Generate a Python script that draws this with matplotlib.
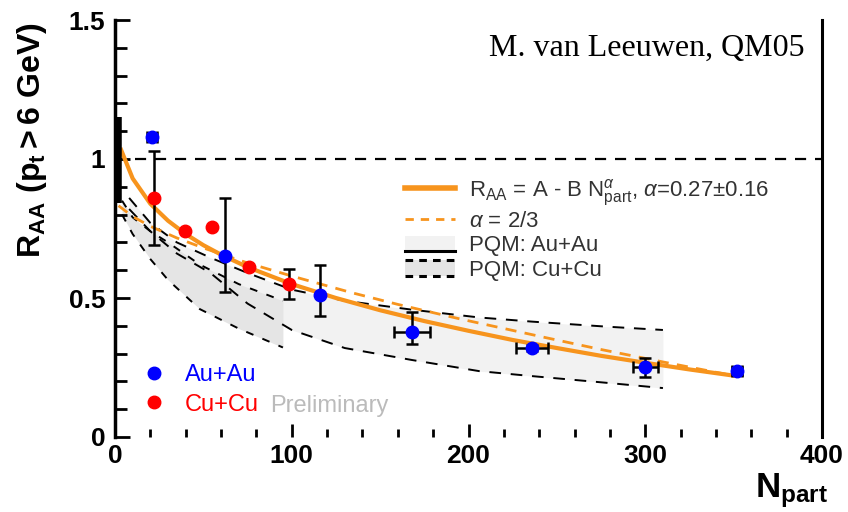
import matplotlib
matplotlib.use('Agg')
import matplotlib.pyplot as plt
from matplotlib.lines import Line2D
from matplotlib.patches import Patch, Rectangle
from matplotlib.legend_handler import HandlerBase

plt.rcParams['font.family'] = ['Liberation Sans', 'DejaVu Sans']
plt.rcParams['mathtext.fontset'] = 'custom'
plt.rcParams['mathtext.rm'] = 'Liberation Sans'
plt.rcParams['mathtext.it'] = 'Liberation Sans:italic'
plt.rcParams['mathtext.bf'] = 'Liberation Sans:bold'

# ---------------- data ----------------
auau_N = [21, 62, 116, 168, 236, 300, 352]
auau_R = [1.08, 0.65, 0.51, 0.378, 0.32, 0.252, 0.237]
auau_err_lo = [0.0, 0.13, 0.075, 0.045, 0.01, 0.035, 0.015]
auau_err_hi = [0.0, 0.21, 0.11, 0.07, 0.01, 0.033, 0.015]
auau_xerr = [3, 0, 0, 10, 9, 7, 3]

cucu_N = [22, 39.5, 55, 75.7, 98.3]
cucu_R = [0.86, 0.741, 0.755, 0.61, 0.55]
cucu_err = [0.17, 0.0, 0.0, 0.0, 0.053]

norm_N = 2
norm_lo = 0.84
norm_hi = 1.15

fit_N = [3, 10, 20, 30, 40, 50, 60, 75, 100, 125, 150, 175, 200, 225, 250,
         275, 300, 325, 352]
fit_R = [1.04, 0.93, 0.839, 0.778, 0.73, 0.69, 0.656, 0.611, 0.55, 0.50,
         0.456, 0.417, 0.382, 0.349, 0.32, 0.292, 0.267, 0.243, 0.219]

fit23_N = [2, 10, 20, 35, 50, 75, 100, 134, 160, 195, 244, 274, 310, 352]
fit23_R = [0.832, 0.793, 0.758, 0.716, 0.68, 0.626, 0.579, 0.519, 0.477,
           0.425, 0.357, 0.316, 0.27, 0.218]

pqm_auau_N = [8, 20, 35, 54, 75, 100, 130, 168, 206, 236, 278, 310]
pqm_auau_hi = [0.86, 0.77, 0.70, 0.645, 0.59, 0.53, 0.49, 0.458, 0.43,
               0.415, 0.397, 0.385]
pqm_auau_lo = [0.82, 0.74, 0.66, 0.59, 0.48, 0.385, 0.32, 0.277, 0.237,
               0.219, 0.195, 0.176]

pqm_cucu_N = [4, 10, 20, 30, 48, 70, 95]
pqm_cucu_hi = [0.85, 0.79, 0.74, 0.70, 0.62, 0.55, 0.49]
pqm_cucu_lo = [0.80, 0.73, 0.64, 0.565, 0.46, 0.39, 0.322]

x_ticks = [0, 100, 200, 300, 400]
y_ticks = [0, 0.5, 1, 1.5]
y_ticklabels = ['0', '0.5', '1', '1.5']

ORANGE = '#f7941d'

# ---------------- figure ----------------
fig = plt.figure(figsize=(8.48, 5.12), dpi=100)
ax = fig.add_axes([115 / 848, 75 / 512, 707 / 848, 417 / 512])

ax.fill_between(pqm_auau_N, pqm_auau_lo, pqm_auau_hi, color='#f2f2f2', lw=0, zorder=1)
ax.fill_between(pqm_cucu_N, pqm_cucu_lo, pqm_cucu_hi, color='#e5e5e5', lw=0, zorder=1.1)
for yy in (pqm_auau_lo, pqm_auau_hi):
    ax.plot(pqm_auau_N, yy, color='k', lw=1.4, ls=(0, (6, 5)), zorder=2)
for yy in (pqm_cucu_lo, pqm_cucu_hi):
    ax.plot(pqm_cucu_N, yy, color='k', lw=1.4, ls=(0, (4, 5)), zorder=2)

ax.axhline(1.0, color='k', lw=1.6, ls=(0, (5, 4)), zorder=2)

ax.plot(fit_N, fit_R, color=ORANGE, lw=3, zorder=3, solid_capstyle='butt')
ax.plot(fit23_N, fit23_R, color=ORANGE, lw=2, ls=(0, (4, 3)), zorder=3)

ax.vlines(norm_N, norm_lo, norm_hi, color='k', lw=4, zorder=4)

ax.errorbar(cucu_N, cucu_R, yerr=cucu_err, fmt='o', color='#ff0000', ecolor='k',
            elinewidth=1.8, capsize=4, capthick=1.8, ms=9, mec='#ff0000', zorder=5)
ax.errorbar(auau_N, auau_R, yerr=[auau_err_lo, auau_err_hi], xerr=auau_xerr, fmt='o',
            color='#0000ff', ecolor='k', elinewidth=1.8, capsize=4, capthick=1.8,
            ms=9, mec='#0000ff', zorder=5)

ax.set_xlim(0, 400)
ax.set_ylim(0, 1.5)
ax.spines['top'].set_visible(False)
ax.spines['bottom'].set_visible(False)
ax.spines['left'].set_linewidth(2.5)
ax.spines['right'].set_linewidth(2.2)

ax.set_xticks(x_ticks)
ax.set_xticks([v for v in range(0, 401, 20)], minor=True)
ax.set_yticks(y_ticks)
ax.set_yticklabels(y_ticklabels)
ax.set_yticks([i / 10 for i in range(0, 16)], minor=True)
ax.tick_params(axis='x', which='major', direction='in', length=9.5, width=2,
               pad=5, labelsize=19)
ax.tick_params(axis='x', which='minor', direction='in', length=6, width=2)
ax.tick_params(axis='y', which='major', direction='in', length=10.5, width=2,
               pad=7, labelsize=19, right=False)
ax.tick_params(axis='y', which='minor', direction='in', length=8.5, width=2,
               right=False)
for lbl in ax.get_xticklabels() + ax.get_yticklabels():
    lbl.set_fontweight('bold')


class BandHandler(HandlerBase):
    def __init__(self, face, ls, top):
        super().__init__()
        self.face, self.ls, self.top = face, ls, top

    def create_artists(self, legend, orig_handle, xdescent, ydescent, width,
                       height, fontsize, trans):
        x0, y0 = -xdescent, -ydescent
        arts = [Rectangle((x0, y0), width, height, facecolor=self.face,
                          edgecolor='none', transform=trans)]
        ys = [y0] + ([y0 + height] if self.top else [])
        for yv in ys:
            arts.append(Line2D([x0, x0 + width], [yv, yv], color='k', lw=2.2,
                               ls=self.ls, transform=trans))
        return arts


h_fit = Line2D([], [], color=ORANGE, lw=4)
h_fit23 = Line2D([], [], color=ORANGE, lw=2, ls=(0, (3, 2.5)))
h_au = Patch()
h_cu = Patch()
leg1 = ax.legend([h_fit, h_fit23, h_au, h_cu],
                 [r'R$_{\rm AA}$ = A - B N$^{\alpha}_{\rm part}$, $\alpha$=0.27$\pm$0.16',
                  r'$\alpha$ = 2/3', 'PQM: Au+Au', 'PQM: Cu+Cu'],
                 handler_map={h_au: BandHandler('#f2f2f2', '-', False),
                              h_cu: BandHandler('#e5e5e5', (0, (2.5, 2)), True)},
                 loc='upper left', bbox_to_anchor=(0.41, 0.623), frameon=False,
                 fontsize=16, handlelength=2.25, handletextpad=0.65,
                 labelspacing=0.15, borderpad=0, borderaxespad=0)
for t in leg1.get_texts():
    t.set_color('#333333')
ax.add_artist(leg1)

h_b = Line2D([], [], ls='none', marker='o', ms=9, color='#0000ff')
h_r = Line2D([], [], ls='none', marker='o', ms=9, color='#ff0000')
leg2 = ax.legend([h_b, h_r], ['Au+Au', 'Cu+Cu'], loc='upper left',
                 bbox_to_anchor=(0.038, 0.174), frameon=False, fontsize=17,
                 handlelength=1.0, handletextpad=0.82, labelspacing=0.3,
                 borderpad=0, borderaxespad=0)
leg2.get_texts()[0].set_color('#0000ff')
leg2.get_texts()[1].set_color('#ff0000')
ax.text(0.219, 0.074, 'Preliminary', color='#bbbbbb', fontsize=17,
        transform=ax.transAxes, va='center', ha='left')

ax.text(0.976, 0.933, 'M. van Leeuwen, QM05', transform=ax.transAxes,
        ha='right', va='center', fontsize=23, family='Liberation Serif')

fig.text(32 / 848, 1 - 140 / 512, r'$\mathbf{R_{AA}\ (p_{t} > 6\ GeV)}$',
         rotation=90, ha='center', va='center', fontsize=23)
fig.text(755 / 848, 1 - 497 / 512, r'$\mathbf{N_{part}}$', ha='left',
         va='baseline', fontsize=25)

fig.savefig('out.png', dpi=100)
